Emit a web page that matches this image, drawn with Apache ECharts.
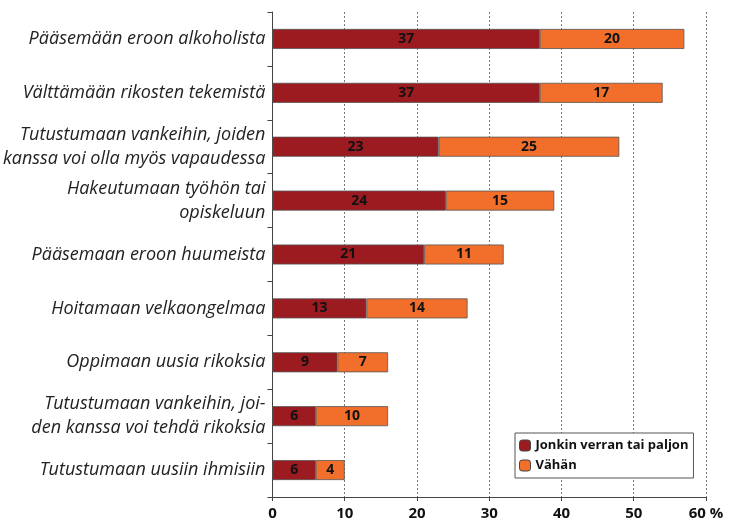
<!DOCTYPE html>
<html>
<head>
<meta charset="utf-8">
<script src="https://cdn.jsdelivr.net/npm/echarts@6/dist/echarts.min.js"></script>
<style>
  html, body { margin: 0; padding: 0; background: #fff; }
  #main { width: 732px; height: 521px; }
</style>
</head>
<body>
<div id="main"></div>
<script>
// categories top to bottom
var categories = [
  'Pääsemään eroon alkoholista',
  'Välttämään rikosten tekemistä',
  'Tutustumaan vankeihin, joiden\nkanssa voi olla myös vapaudessa',
  'Hakeutumaan työhön tai\nopiskeluun',
  'Pääsemaan eroon huumeista',
  'Hoitamaan velkaongelmaa',
  'Oppimaan uusia rikoksia',
  'Tutustumaan vankeihin, joi-\nden kanssa voi tehdä rikoksia',
  'Tutustumaan uusiin ihmisiin'
];
var jonkin = [37, 37, 23, 24, 21, 13, 9, 6, 6];
var vahan = [20, 17, 25, 15, 11, 14, 7, 10, 4];
var xTicks = [0, 10, 20, 30, 40, 50, 60];

var chart = echarts.init(document.getElementById('main'));

var barLabel = {
  show: true,
  position: 'inside',
  color: '#111',
  fontWeight: 'bold',
  fontSize: 14,
  fontFamily: 'Open Sans'
};

chart.setOption({
  animation: false,
  grid: { left: 271, right: 26, top: 12, bottom: 24, containLabel: false },
  legend: {
    orient: 'vertical',
    left: 515,
    top: 433,
    itemWidth: 11,
    itemHeight: 11,
    itemGap: 7,
    padding: [6, 5, 6, 4],
    borderColor: '#555',
    borderWidth: 1,
    backgroundColor: '#fff',
    textStyle: { fontSize: 13, fontWeight: 'bold', color: '#111', fontFamily: 'Open Sans' },
    data: [
      { name: 'Jonkin verran tai paljon', itemStyle: { borderColor: '#444', borderWidth: 1 } },
      { name: 'Vähän', itemStyle: { borderColor: '#444', borderWidth: 1 } }
    ]
  },
  xAxis: {
    type: 'value',
    min: 0,
    max: 60,
    interval: 10,
    axisLine: { show: true, lineStyle: { color: '#444', width: 1 } },
    axisTick: { show: true, length: 4, lineStyle: { color: '#444' } },
    axisLabel: {
      margin: 9,
      fontSize: 15,
      fontWeight: 'bold',
      color: '#111',
      fontFamily: 'Open Sans',
      formatter: function (v) { return xTicks.indexOf(v) === 6 ? v + ' %' : String(v); }
    },
    splitLine: { show: true, lineStyle: { type: [2, 2], color: '#777', width: 1 } }
  },
  yAxis: {
    type: 'category',
    inverse: true,
    data: categories,
    axisLine: { show: true, lineStyle: { color: '#444', width: 1 } },
    axisTick: { show: true, length: 5, lineStyle: { color: '#444' } },
    axisLabel: {
      margin: 7,
      fontSize: 18,
      fontStyle: 'italic',
      color: '#222',
      fontFamily: 'Open Sans',
      lineHeight: 24,
      align: 'right'
    }
  },
  series: [
    {
      name: 'Jonkin verran tai paljon',
      type: 'bar',
      stack: 'total',
      barWidth: 20,
      data: jonkin,
      itemStyle: { color: '#9b1b20', borderColor: '#555', borderWidth: 0.8 },
      label: barLabel
    },
    {
      name: 'Vähän',
      type: 'bar',
      stack: 'total',
      barWidth: 20,
      data: vahan,
      itemStyle: { color: '#f26f2b', borderColor: '#555', borderWidth: 0.8 },
      label: barLabel
    }
  ]
});
</script>
</body>
</html>
